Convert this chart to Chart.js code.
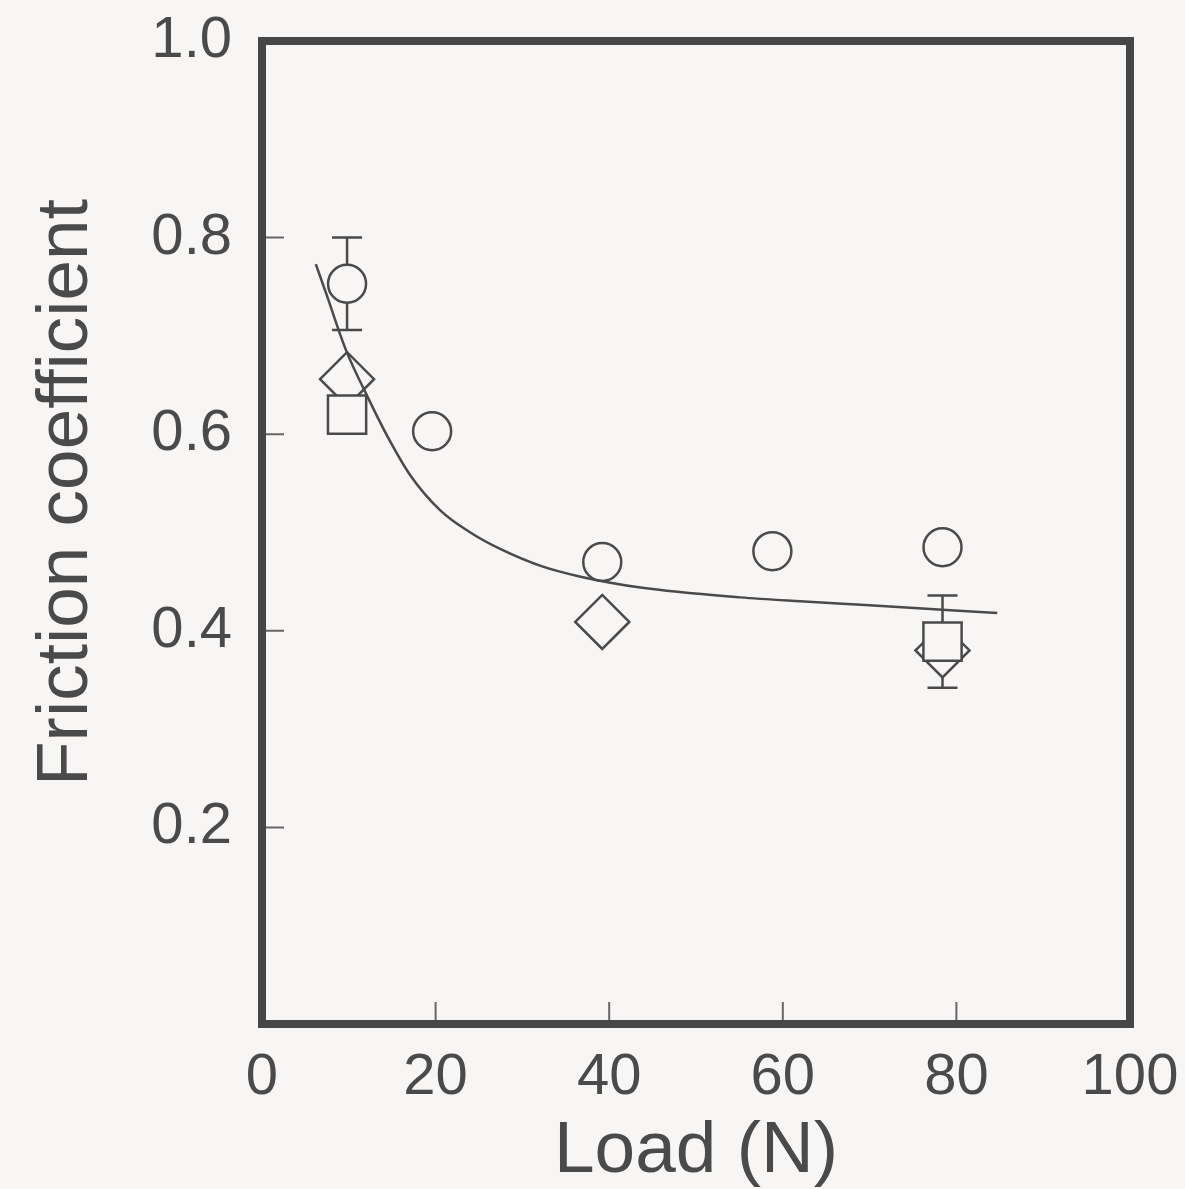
<!DOCTYPE html>
<html>
<head>
<meta charset="utf-8">
<script src="https://cdn.jsdelivr.net/npm/chart.js@4.4.1/dist/chart.umd.min.js"></script>
<style>
  html, body { margin:0; padding:0; background:#f8f5f5; }
  #wrap { width:1185px; height:1189px; }
</style>
</head>
<body>
<div id="wrap"><canvas id="c"></canvas></div>
<script>
// axis ticks
const xTicks = [0, 20, 40, 60, 80, 100];
const yTicks = [0.2, 0.4, 0.6, 0.8, 1.0];

// measured friction coefficients (open circles, diamonds, squares)
const circleLoad = [9.8, 19.6, 39.2, 58.8, 78.4];
const circleMu   = [0.753, 0.603, 0.470, 0.481, 0.485];
const circleErr  = [0.047, null, null, null, null];

const diamondLoad = [9.8, 39.2, 78.4];
const diamondMu   = [0.656, 0.409, 0.380];

const squareLoad = [9.8, 78.4];
const squareMu   = [0.620, 0.389];
const squareErr  = [null, 0.047];

// fitted trend
const fitLoad = [6.2, 7.4, 9.7, 12.0, 14.5, 17.1, 20.6, 24.0, 27.5, 32.1, 36.7, 43.6, 55.1, 62.0, 70.0, 84.7];
const fitMu   = [0.773, 0.743, 0.685, 0.641, 0.597, 0.558, 0.522, 0.500, 0.483, 0.466, 0.455, 0.444, 0.434, 0.430, 0.426, 0.418];

const BG = '#f8f5f5';
const INK = '#4a4a4a';
const FONT = "'Liberation Sans', Arial, sans-serif";

const pts = (xs, ys) => xs.map((x, i) => ({ x, y: ys[i] }));

const paperPlugin = {
  id: 'paper',
  beforeDraw(chart) {
    const c = chart.ctx;
    c.save();
    c.fillStyle = BG;
    c.fillRect(0, 0, chart.width, chart.height);
    c.restore();
  },
  beforeDatasetsDraw(chart) {
    // error bars go under the markers
    const c = chart.ctx;
    const xs = chart.scales.x, ys = chart.scales.y;
    c.save();
    c.strokeStyle = INK;
    c.lineWidth = 2.5;
    chart.data.datasets.forEach(ds => {
      if (!ds.errors) return;
      ds.data.forEach((p, i) => {
        const e = ds.errors[i];
        if (e == null) return;
        const px = xs.getPixelForValue(p.x);
        const hi = ys.getPixelForValue(p.y + e);
        const lo = ys.getPixelForValue(p.y - e);
        const cap = 15;
        c.beginPath();
        c.moveTo(px, hi); c.lineTo(px, lo);
        c.moveTo(px - cap, hi); c.lineTo(px + cap, hi);
        c.moveTo(px - cap, lo); c.lineTo(px + cap, lo);
        c.stroke();
      });
    });
    c.restore();
  },
  afterDraw(chart) {
    const c = chart.ctx;
    const a = chart.chartArea;
    const xs = chart.scales.x, ys = chart.scales.y;
    c.save();
    // inward tick marks
    c.strokeStyle = '#666';
    c.lineWidth = 2;
    c.beginPath();
    xs.ticks.forEach(t => {
      if (t.value <= xs.min || t.value >= xs.max) return;
      const px = xs.getPixelForValue(t.value);
      c.moveTo(px, a.bottom); c.lineTo(px, a.bottom - 22);
    });
    ys.ticks.forEach(t => {
      if (t.value <= ys.min || t.value >= ys.max) return;
      const py = ys.getPixelForValue(t.value);
      c.moveTo(a.left, py); c.lineTo(a.left + 22, py);
    });
    c.stroke();
    // heavy frame
    c.strokeStyle = '#474747';
    c.lineWidth = 8;
    c.strokeRect(a.left, a.top, a.right - a.left, a.bottom - a.top);
    // y axis title
    c.fillStyle = INK;
    c.font = '73px ' + FONT;
    c.textAlign = 'center';
    c.textBaseline = 'middle';
    c.translate(67, (a.top + a.bottom) / 2 - 40);
    c.rotate(-Math.PI / 2);
    c.fillText('Friction coefficient', 0, 0);
    c.restore();
  }
};

const marker = {
  borderColor: INK,
  backgroundColor: BG,
  borderWidth: 2.5,
  showLine: false
};

new Chart(document.getElementById('c'), {
  type: 'scatter',
  data: {
    datasets: [
      { label: 'fit', data: pts(fitLoad, fitMu), showLine: true, pointRadius: 0,
        borderColor: INK, borderWidth: 2.5, cubicInterpolationMode: 'monotone', order: 0 },
      { ...marker, label: 'circle', data: pts(circleLoad, circleMu), errors: circleErr,
        pointStyle: 'circle', pointRadius: 19, order: 1 },
      { ...marker, label: 'square', data: pts(squareLoad, squareMu), errors: squareErr,
        pointStyle: 'rect', pointRadius: 27, order: 2 },
      { ...marker, label: 'diamond', data: pts(diamondLoad, diamondMu),
        pointStyle: 'rectRot', pointRadius: 27, order: 3 }
    ]
  },
  options: {
    responsive: true,
    maintainAspectRatio: false,
    animation: false,
    layout: { padding: { top: 41, right: 55, left: 0, bottom: 0 } },
    plugins: { legend: { display: false }, tooltip: { enabled: false } },
    scales: {
      x: {
        type: 'linear', min: 0, max: 100,
        afterBuildTicks: s => { s.ticks = xTicks.map(v => ({ value: v })); },
        afterFit: s => { s.height = 165; s.paddingLeft = 0; s.paddingRight = 0; },
        grid: { display: false, drawTicks: false },
        border: { display: false },
        ticks: { color: INK, padding: 19, font: { family: FONT, size: 58 } },
        title: { display: true, text: 'Load (N)', color: INK,
                 font: { family: FONT, size: 73, lineHeight: 1 }, padding: { top: 0, bottom: 1 } }
      },
      y: {
        type: 'linear', min: 0, max: 1,
        afterBuildTicks: s => { s.ticks = yTicks.map(v => ({ value: v })); },
        afterFit: s => { s.width = 262; s.paddingTop = 0; s.paddingBottom = 0; },
        grid: { display: false, drawTicks: false },
        border: { display: false },
        ticks: { color: INK, padding: 30, font: { family: FONT, size: 58 },
                 callback: v => v.toFixed(1) }
      }
    }
  },
  plugins: [paperPlugin]
});
</script>
</body>
</html>
